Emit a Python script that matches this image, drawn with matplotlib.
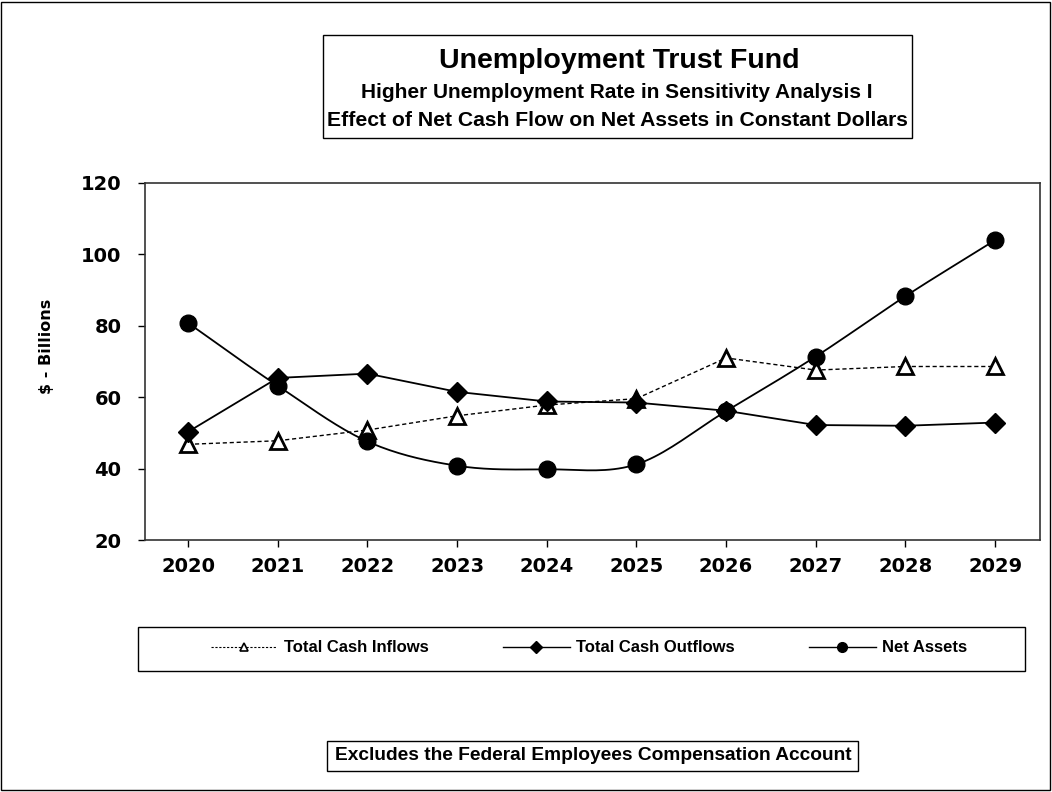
import numpy as np
import matplotlib
matplotlib.use("Agg")
import matplotlib.pyplot as plt
from matplotlib.patches import Rectangle
from matplotlib.lines import Line2D

years = [2020, 2021, 2022, 2023, 2024, 2025, 2026, 2027, 2028, 2029]
inflows = [46.8, 47.8, 50.8, 54.8, 57.8, 59.6, 71.0, 67.6, 68.6, 68.6]
outflows = [50.3, 65.4, 66.6, 61.5, 58.8, 58.5, 56.2, 52.2, 52.0, 52.9]
net_assets = [80.8, 63.2, 47.6, 40.8, 39.8, 41.2, 56.1, 71.4, 88.3, 104.0]

title1 = "Unemployment Trust Fund"
title2 = "Higher Unemployment Rate in Sensitivity Analysis I"
title3 = "Effect of Net Cash Flow on Net Assets in Constant Dollars"
ylabel = "$ - Billions"
footnote = "Excludes the Federal Employees Compensation Account"
labels = ["Total Cash Inflows", "Total Cash Outflows", "Net Assets"]

BOLD = ["Liberation Sans", "DejaVu Sans"]
HEAVY = ["DejaVu Sans"]


def smooth(xs, ys, n=20):
    """Catmull-Rom curve through the data points (Excel-like smoothed line)."""
    xs = np.asarray(xs, float)
    ys = np.asarray(ys, float)
    px = np.concatenate([[2 * xs[0] - xs[1]], xs, [2 * xs[-1] - xs[-2]]])
    py = np.concatenate([[2 * ys[0] - ys[1]], ys, [2 * ys[-1] - ys[-2]]])
    ox, oy = [], []
    t = np.linspace(0, 1, n, endpoint=False)
    for i in range(1, len(px) - 2):
        for arr, out in ((px, ox), (py, oy)):
            p0, p1, p2, p3 = arr[i - 1], arr[i], arr[i + 1], arr[i + 2]
            out.extend(0.5 * ((2 * p1) + (-p0 + p2) * t
                              + (2 * p0 - 5 * p1 + 4 * p2 - p3) * t ** 2
                              + (-p0 + 3 * p1 - 3 * p2 + p3) * t ** 3))
    ox.append(xs[-1])
    oy.append(ys[-1])
    return np.array(ox), np.array(oy)


W, H = 1052, 792
fig = plt.figure(figsize=(W / 100, H / 100), dpi=100)
fig.patch.set_facecolor("white")

def fx(px):
    return px / W

def fy(py):
    return 1 - py / H

# outer border
fig.add_artist(Rectangle((fx(1), fy(790)), fx(1049), 788 / H, transform=fig.transFigure,
                         fill=False, edgecolor="black", linewidth=1))

ax = fig.add_axes([fx(145), fy(540), fx(1040 - 145), (540 - 183) / H])
xi = np.arange(len(years))

ax.plot(xi, inflows, color="black", linestyle=(0, (3, 2)), linewidth=1.0, zorder=2)
ax.plot(xi, inflows, linestyle="none", marker="^", markersize=12, markerfacecolor="white",
        markeredgecolor="black", markeredgewidth=2, zorder=4)

ax.plot(xi, outflows, color="black", linewidth=1.3, zorder=3)
ax.plot(xi, outflows, linestyle="none", marker="D", markersize=10, color="black", zorder=5)

sx, sy = smooth(xi, net_assets)
ax.plot(sx, sy, color="black", linewidth=1.3, zorder=3)
ax.plot(xi, net_assets, linestyle="none", marker="o", markersize=12, color="black", zorder=5)

ax.set_xlim(-0.48, len(years) - 1 + 0.5)
ax.set_ylim(20, 120)
ax.set_yticks([20, 40, 60, 80, 100, 120])
ax.set_xticks(xi)
ax.set_xticklabels([str(y) for y in years])
for lab in ax.get_xticklabels() + ax.get_yticklabels():
    lab.set_fontfamily(HEAVY)
    lab.set_fontweight("bold")
    lab.set_fontsize(14)
ax.tick_params(axis="both", direction="out", length=5, width=1, color="black")
ax.tick_params(axis="x", pad=7)
ax.tick_params(axis="y", pad=12)
for s in ax.spines.values():
    s.set_linewidth(1.2)
    s.set_color("#333333")

fig.text(fx(46), fy(346), ylabel, rotation=90, ha="center", va="center",
         fontsize=11.5, fontweight="bold", family=HEAVY)

# title box
fig.add_artist(Rectangle((fx(323), fy(138)), fx(912 - 323), (138 - 35) / H,
                         transform=fig.transFigure, fill=False, edgecolor="black", linewidth=1))
fig.text(fx(619), fy(61), title1, ha="center", va="center", fontsize=20.5,
         fontweight="bold", family=BOLD)
fig.text(fx(617), fy(93), title2, ha="center", va="center", fontsize=15,
         fontweight="bold", family=BOLD)
fig.text(fx(617), fy(120), title3, ha="center", va="center", fontsize=15.2,
         fontweight="bold", family=BOLD)

# legend box
fig.add_artist(Rectangle((fx(138), fy(671)), fx(1025 - 138), (671 - 627) / H,
                         transform=fig.transFigure, fill=False, edgecolor="black", linewidth=1))
handles = [
    Line2D([], [], color="black", linestyle=(0, (2, 1.5)), linewidth=0.8, marker="^",
           markersize=6, markerfacecolor="white", markeredgecolor="black", markeredgewidth=1.2),
    Line2D([], [], color="black", linewidth=1.0, marker="D", markersize=6),
    Line2D([], [], color="black", linewidth=1.0, marker="o", markersize=7),
]
fig.legend(handles, labels, loc="center", bbox_to_anchor=(fx(589), fy(648)), ncol=3,
           frameon=False, handlelength=4.0, handletextpad=0.4, columnspacing=4.45,
           prop={"family": BOLD, "weight": "bold", "size": 12})

# footnote box
fig.add_artist(Rectangle((fx(327), fy(771)), fx(858 - 327), (771 - 741) / H,
                         transform=fig.transFigure, fill=False, edgecolor="black", linewidth=1))
fig.text(fx(593), fy(756), footnote, ha="center", va="center", fontsize=13.8,
         fontweight="bold", family=BOLD)

fig.savefig("out.png", dpi=100, facecolor="white")
